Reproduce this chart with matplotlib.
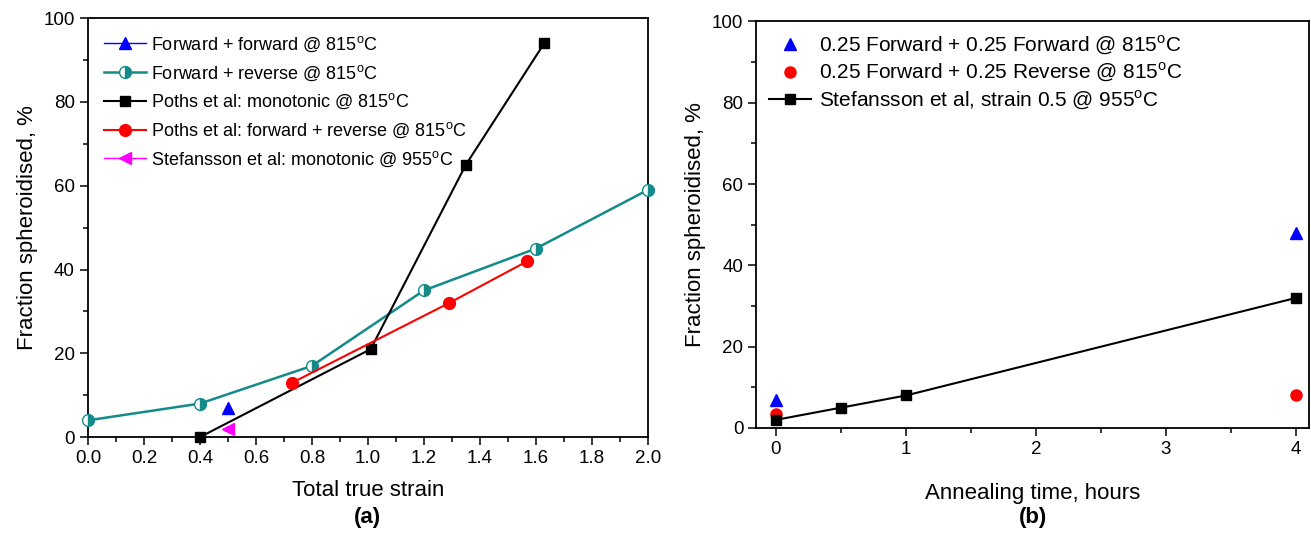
import matplotlib
matplotlib.use("Agg")
import matplotlib.pyplot as plt
from matplotlib.ticker import MultipleLocator

plt.rcParams["font.family"] = ["Liberation Sans", "DejaVu Sans"]
plt.rcParams["mathtext.fontset"] = "custom"
plt.rcParams["mathtext.rm"] = "Liberation Sans"

TEAL = "#138b8b"

# (a) fraction spheroidised vs total true strain
ff_strain = [0.5]
ff_frac = [7]
fr_strain = [0.0, 0.4, 0.8, 1.2, 1.6, 2.0]
fr_frac = [4, 8, 17, 35, 45, 59]
poths_mono_strain = [0.4, 1.01, 1.35, 1.63]
poths_mono_frac = [0, 21, 65, 94]
poths_fr_strain = [0.73, 1.29, 1.57]
poths_fr_frac = [13, 32, 42]
stef_mono_strain = [0.5]
stef_mono_frac = [2]

# (b) fraction spheroidised vs annealing time
ann_ff_time = [0, 4]
ann_ff_frac = [7, 48]
ann_fr_time = [0, 4]
ann_fr_frac = [3.5, 8]
stef_time = [0, 0.5, 1, 4]
stef_frac = [2, 5, 8, 32]

deg = r"$^{\mathrm{o}}$C"

fig = plt.figure(figsize=(13.11, 5.35), dpi=100)
ax1 = fig.add_axes([0.0671, 0.183, 0.427, 0.783])
ax2 = fig.add_axes([0.577, 0.200, 0.4215, 0.760])

for ax in (ax1, ax2):
    for sp in ax.spines.values():
        sp.set_linewidth(1.3)
    ax.tick_params(which="both", direction="out", top=False, right=False,
                   labelsize=13.5, width=1.1)
    ax.tick_params(which="major", length=6)
    ax.tick_params(which="minor", length=3.5)
    ax.set_ylim(0, 100)
    ax.yaxis.set_major_locator(MultipleLocator(20))
    ax.yaxis.set_minor_locator(MultipleLocator(10))
    ax.set_ylabel("Fraction spheroidised, %", fontsize=16)

# panel (a)
ax1.plot(ff_strain, ff_frac, color="blue", lw=1, marker="^", ms=8,
         label="Forward + forward @ 815" + deg, zorder=4)
ax1.plot(fr_strain, fr_frac, color=TEAL, lw=1.8, marker="o", ms=8.5,
         fillstyle="right", markerfacecolor=TEAL, markerfacecoloralt="white",
         markeredgecolor=TEAL, markeredgewidth=1,
         label="Forward + reverse @ 815" + deg, zorder=3, clip_on=False)
ax1.plot(poths_mono_strain, poths_mono_frac, color="black", lw=1.5, marker="s", ms=7,
         label="Poths et al: monotonic @ 815" + deg, zorder=3, clip_on=False)
ax1.plot(poths_fr_strain, poths_fr_frac, color="red", lw=1.5, marker="o", ms=8.5,
         label="Poths et al: forward + reverse @ 815" + deg, zorder=3)
ax1.plot(stef_mono_strain, stef_mono_frac, color="magenta", lw=1, marker="<", ms=8,
         label="Stefansson et al: monotonic @ 955" + deg, zorder=4)

ax1.set_xlim(0, 2.0)
ax1.xaxis.set_major_locator(MultipleLocator(0.2))
ax1.xaxis.set_minor_locator(MultipleLocator(0.1))
ax1.xaxis.set_major_formatter(plt.FuncFormatter(lambda v, p: f"{v:.1f}"))
ax1.set_xlabel("Total true strain", fontsize=16, labelpad=9)
ax1.legend(loc="upper left", frameon=False, fontsize=13, handlelength=2.3,
           borderaxespad=0.5, labelspacing=0.52, handletextpad=0.3)
ax1.text(0.5, -0.191, "(a)", transform=ax1.transAxes, ha="center", va="center",
         fontsize=16, fontweight="bold")

# panel (b)
ax2.plot(ann_ff_time, ann_ff_frac, ls="none", color="blue", marker="^", ms=8,
         label="0.25 Forward + 0.25 Forward @ 815" + deg, zorder=3, clip_on=False)
ax2.plot(ann_fr_time, ann_fr_frac, ls="none", color="red", marker="o", ms=8,
         label="0.25 Forward + 0.25 Reverse @ 815" + deg, zorder=3, clip_on=False)
ax2.plot(stef_time, stef_frac, color="black", lw=1.5, marker="s", ms=7,
         label="Stefansson et al, strain 0.5 @ 955" + deg, zorder=4, clip_on=False)

ax2.set_xlim(-0.15, 4.1)
ax2.xaxis.set_major_locator(MultipleLocator(1))
ax2.xaxis.set_minor_locator(MultipleLocator(0.5))
ax2.set_xlabel("Annealing time, hours", fontsize=16, labelpad=18)
ax2.legend(loc="upper left", frameon=False, fontsize=15, handlelength=2.0,
           borderaxespad=0.2, labelspacing=0.2, handletextpad=0.4)
ax2.text(0.5, -0.221, "(b)", transform=ax2.transAxes, ha="center", va="center",
         fontsize=16, fontweight="bold")

fig.savefig("out.png", dpi=100)
